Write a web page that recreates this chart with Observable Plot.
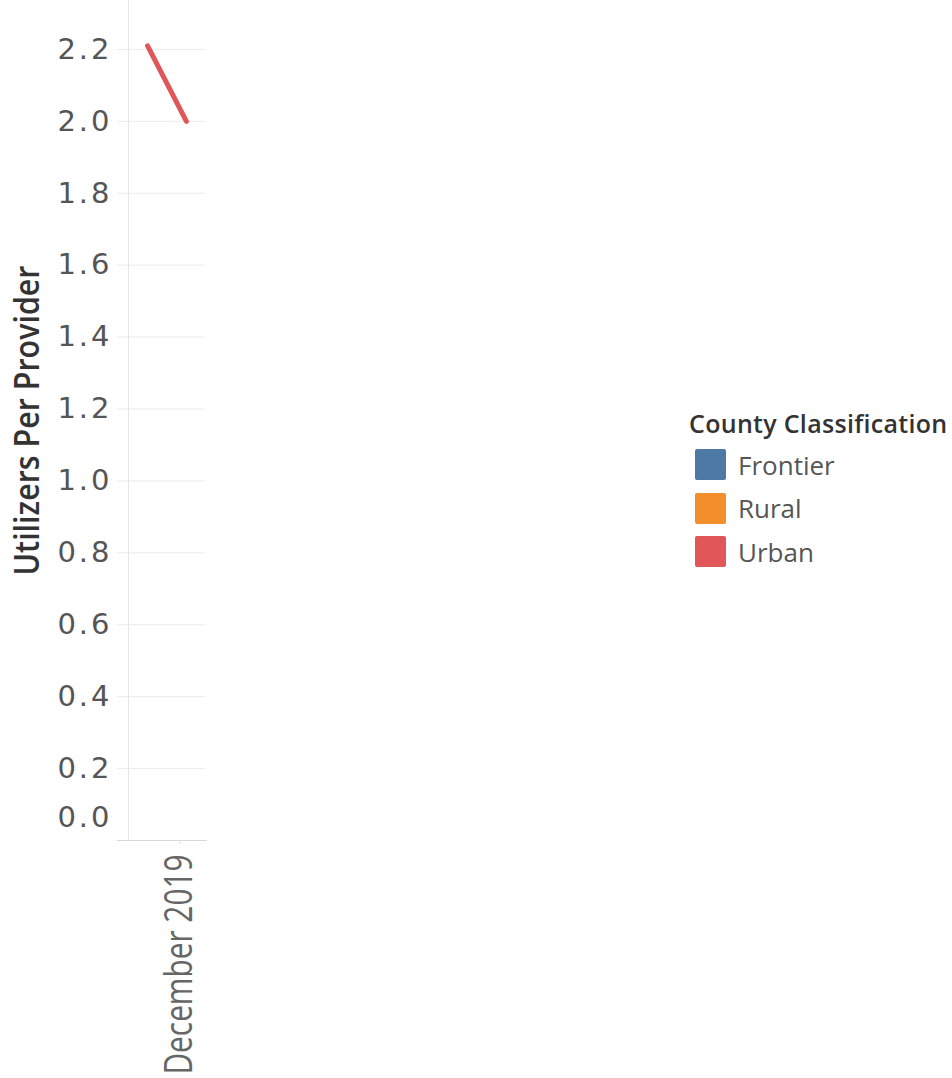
<!DOCTYPE html>
<html><head><meta charset="utf-8">
<script src="https://cdn.jsdelivr.net/npm/d3@7"></script>
<script src="https://cdn.jsdelivr.net/npm/@observablehq/plot@0.6"></script>
<style>
body{margin:0;background:#fff;}
#wrap{position:relative;width:952px;height:1078px;overflow:hidden;background:#fff;}
#wrap svg{position:absolute;left:0;top:0;}
#legend{position:absolute;left:689px;top:406px;font-family:"Open Sans",sans-serif;}
#legend .title{font-size:25px;font-weight:600;color:#333;line-height:34px;white-space:nowrap;letter-spacing:0.3px;margin-bottom:3px;}
#legend .row{display:flex;align-items:center;height:43.5px;}
#legend .sw{width:31px;height:31px;border-radius:2px;margin-left:6px;margin-right:12px;}
#legend .lab{font-size:26px;color:#555;}
</style></head><body><div id="wrap"></div>
<script>
const categories = ["Frontier", "Rural", "Urban"];
const colors = ["#4e79a7", "#f28e2b", "#e15759"];
const legendTitle = "County Classification";
const months = ["2019-11-01", "2020-01-01"];
const urbanValues = [2.21, 2.0];
const yTicks = [0, 0.2, 0.4, 0.6, 0.8, 1.0, 1.2, 1.4, 1.6, 1.8, 2.0, 2.2];
const xTickDates = ["2019-12-01"];
const xTickLabels = ["December 2019"];
const yTitle = "Utilizers Per Provider";

const data = months.map((m, i) => ({date: new Date(m), value: urbanValues[i], cls: "Urban"}));
const xDomain = [new Date("2019-10-02"), new Date("2020-01-31")];

const chart = Plot.plot({
  width: 952, height: 1078,
  marginLeft: 128, marginRight: 747, marginTop: 0, marginBottom: 238,
  x: {type: "utc", domain: xDomain},
  y: {domain: [0, 2.336]},
  color: {domain: categories, range: colors},
  style: {background: "#fff", fontFamily: "DejaVu Sans"},
  marks: [
    Plot.ruleY(yTicks.filter(d => d > 0), {stroke: "#ebebeb", strokeWidth: 1, insetLeft: -11}),
    Plot.ruleX([xDomain[0]], {stroke: "#e6e6e6", strokeWidth: 1}),
    Plot.ruleY([0], {stroke: "#d9d9d9", strokeWidth: 1, insetLeft: -11, insetRight: -2}),
    Plot.axisY(yTicks.filter(d => d > 0), {tickSize: 0, tickPadding: 16, tickFormat: d => d.toFixed(1), fontSize: 29, fill: "#555", label: null, fontFamily: "DejaVu Sans"}),
    Plot.axisY([0], {tickSize: 0, tickPadding: 16, tickFormat: d => d.toFixed(1), fontSize: 29, fill: "#555", label: null, dy: -23, fontFamily: "DejaVu Sans"}),
    Plot.axisX(xTickDates.map(d => new Date(d)), {tickSize: 4, stroke: "#e0e0e0", tickRotate: -90, tickPadding: 10, fill: "#666", fontSize: 38, fontFamily: "Open Sans", tickFormat: (d, i) => xTickLabels[i], label: null, dx: 13}),
    Plot.text([yTitle], {frameAnchor: "left", rotate: -90, textAnchor: "start", dx: -101, dy: 155, fontSize: 35, fontWeight: 600, fill: "#333", fontFamily: "Open Sans"}),
    Plot.line(data, {x: "date", y: "value", stroke: "cls", strokeWidth: 5, strokeLinecap: "round"})
  ]
});

const svg = d3.select(chart);
svg.selectAll("text").filter(function() { return this.textContent === yTitle; })
  .attr("textLength", 310).attr("lengthAdjust", "spacingAndGlyphs");
svg.selectAll("text").filter(function() { return this.textContent === xTickLabels[0]; })
  .attr("textLength", 220).attr("lengthAdjust", "spacingAndGlyphs");
svg.selectAll("text").filter(function() { return /^\d\.\d$/.test(this.textContent); })
  .attr("letter-spacing", "3px");

const wrap = document.getElementById("wrap");
wrap.appendChild(chart);
const legend = document.createElement("div");
legend.id = "legend";
legend.innerHTML = `<div class="title">${legendTitle}</div>` +
  categories.map((c, i) => `<div class="row"><div class="sw" style="background:${colors[i]}"></div><div class="lab">${c}</div></div>`).join("");
wrap.appendChild(legend);
</script>
</body></html>
